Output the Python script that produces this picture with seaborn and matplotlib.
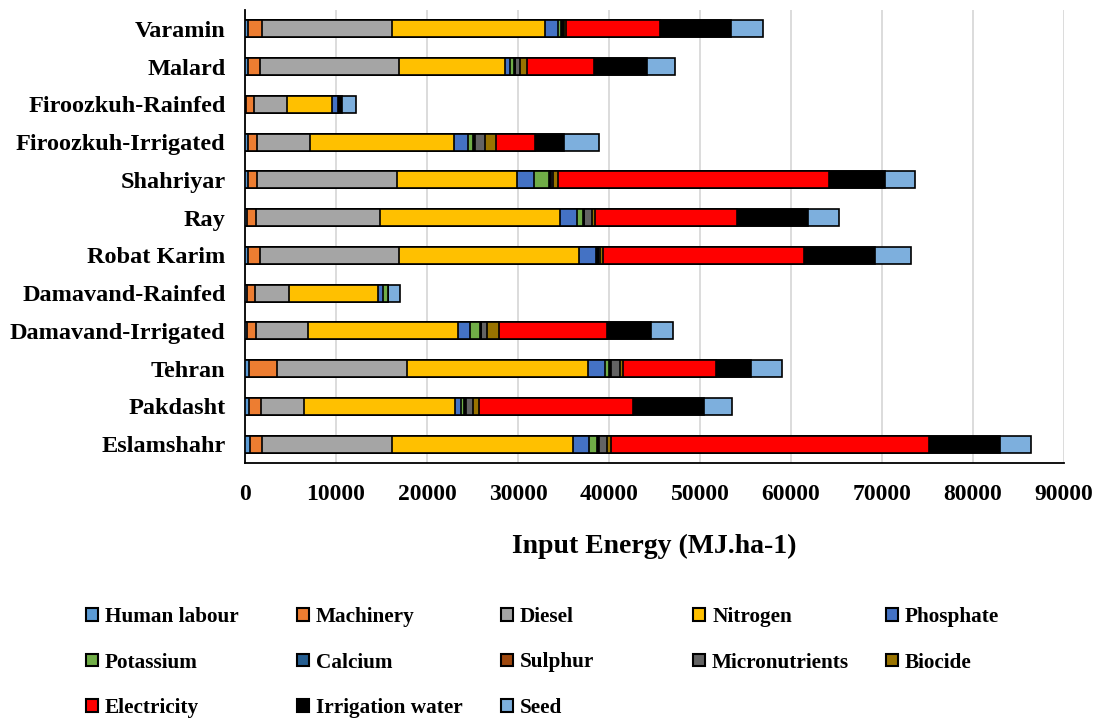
"""
Stacked input energy per region (MJ/ha), Excel-style horizontal bars.
"""

import numpy as np
import pandas as pd
import matplotlib
matplotlib.use('Agg')
import matplotlib.pyplot as plt
from matplotlib.patches import Patch
import seaborn as sns

sns.set_style('white')
plt.rcParams['font.family'] = ['Liberation Serif', 'DejaVu Serif']
plt.rcParams['font.weight'] = 'bold'
plt.rcParams['text.color'] = 'black'
plt.rcParams['axes.labelcolor'] = 'black'
plt.rcParams['xtick.color'] = 'black'
plt.rcParams['ytick.color'] = 'black'

regions = ['Varamin', 'Malard', 'Firoozkuh-Rainfed', 'Firoozkuh-Irrigated',
           'Shahriyar', 'Ray', 'Robat Karim', 'Damavand-Rainfed',
           'Damavand-Irrigated', 'Tehran', 'Pakdasht', 'Eslamshahr']

human_labour = [330, 300, 150, 330, 330, 250, 330, 180, 250, 480, 480, 550]
machinery = [1500, 1320, 880, 1030, 1030, 920, 1320, 920, 950, 3000, 1250, 1280]
diesel = [14350, 15270, 3590, 5790, 15310, 13660, 15270, 3770, 5750, 14360, 4800, 14360]
nitrogen = [16780, 11650, 4950, 15820, 13260, 19780, 19820, 9700, 16480, 19820, 16560, 19820]
phosphate = [1390, 550, 620, 1500, 1830, 1900, 1830, 550, 1280, 1900, 660, 1830]
potassium = [400, 440, 0, 550, 1690, 590, 100, 550, 1100, 480, 370, 880]
calcium = [100, 100, 0, 150, 100, 100, 100, 0, 100, 100, 100, 100]
sulphur = [100, 50, 0, 50, 50, 50, 50, 0, 50, 50, 50, 50]
micronutrients = [100, 550, 0, 1100, 200, 920, 170, 0, 660, 1060, 810, 950]
biocide = [250, 730, 0, 1250, 550, 330, 330, 0, 1250, 290, 620, 440]
electricity = [10260, 7440, 0, 4250, 29780, 15570, 22160, 0, 11900, 10260, 16960, 34870]
irrigation_water = [7880, 5750, 480, 3190, 6190, 7800, 7800, 0, 4800, 3850, 7800, 7800]
seed = [3440, 3110, 1540, 3920, 3330, 3410, 3920, 1350, 2450, 3370, 3080, 3410]

inputs = ['Human labour', 'Machinery', 'Diesel', 'Nitrogen', 'Phosphate',
          'Potassium', 'Calcium', 'Sulphur', 'Micronutrients', 'Biocide',
          'Electricity', 'Irrigation water', 'Seed']
colors = ['#5B9BD5', '#ED7D31', '#A5A5A5', '#FFC000', '#4472C4',
          '#70AD47', '#255E91', '#9E480E', '#636363', '#997300',
          '#FF0000', '#000000', '#7DAFDD']

df = pd.DataFrame({
    'Human labour': human_labour, 'Machinery': machinery, 'Diesel': diesel,
    'Nitrogen': nitrogen, 'Phosphate': phosphate, 'Potassium': potassium,
    'Calcium': calcium, 'Sulphur': sulphur, 'Micronutrients': micronutrients,
    'Biocide': biocide, 'Electricity': electricity,
    'Irrigation water': irrigation_water, 'Seed': seed,
}, index=regions)
cum = df[inputs].cumsum(axis=1)

W, H = 1099, 722
fig = plt.figure(figsize=(W / 100, H / 100), dpi=100)
ax = fig.add_axes([245 / W, 1 - 463 / H, (1064 - 245) / W, (463 - 10) / H])

# draw the cumulative totals from the outermost layer inwards
for name, color in reversed(list(zip(inputs, colors))):
    sns.barplot(x=cum[name].values, y=regions, orient='h', color=color,
                saturation=1, width=0.45, edgecolor='black', linewidth=1.2,
                errorbar=None, ax=ax, zorder=3)

ax.set_xlim(0, 90000)
ax.set_xticks(np.arange(0, 90001, 10000))
ax.grid(axis='x', color='#D9D9D9', linewidth=1.3, zorder=0)
ax.set_axisbelow(True)
ax.tick_params(axis='x', length=0, pad=15, labelsize=17)
ax.tick_params(axis='y', length=0, pad=14, labelsize=17.5)
for lab in ax.get_xticklabels() + ax.get_yticklabels():
    lab.set_fontweight('bold')
ax.set_ylabel('')
ax.set_xlabel('Input Energy (MJ.ha-1)', fontsize=20, fontweight='bold', labelpad=21)
for side in ['top', 'right']:
    ax.spines[side].set_visible(False)
for side in ['left', 'bottom']:
    ax.spines[side].set_color('black')
    ax.spines[side].set_linewidth(1.3)

# legend laid out like Excel: 5 columns, filled row by row
col_x = [86, 297, 501, 693, 886]
for c in range(5):
    idx = list(range(c, len(inputs), 5))
    handles = [Patch(facecolor=colors[i], edgecolor='black', linewidth=1.5) for i in idx]
    labels = [inputs[i] for i in idx]
    fig.legend(handles, labels, loc='upper left',
               bbox_to_anchor=(col_x[c] / W, 1 - 607 / H),
               frameon=False, prop={'weight': 'bold', 'size': 15.3},
               handlelength=0.55, handleheight=0.55, handletextpad=0.35,
               labelspacing=1.2, borderpad=0, borderaxespad=0)

fig.savefig('out.png', dpi=100)
